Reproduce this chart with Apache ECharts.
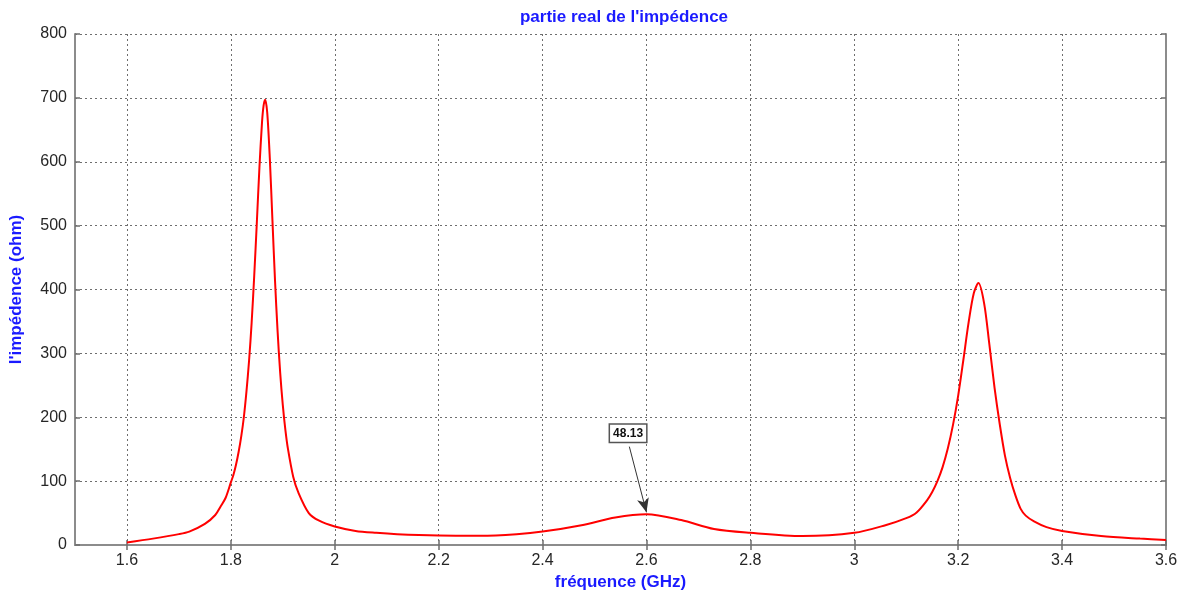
<!DOCTYPE html>
<html>
<head>
<meta charset="utf-8">
<script src="https://cdn.jsdelivr.net/npm/echarts@6/dist/echarts.min.js"></script>
<style>
html,body{margin:0;padding:0;background:#fff;}
#chart{width:1182px;height:596px;}
</style>
</head>
<body>
<div id="chart"></div>
<script>
// Data
const titleText = "partie real de l'impédence";
const xName = "fréquence (GHz)";
const yName = "l'impédence (ohm)";
const xTicks = [1.6, 1.8, 2, 2.2, 2.4, 2.6, 2.8, 3, 3.2, 3.4, 3.6];
const freq = [
  1.60, 1.65, 1.70, 1.72, 1.75, 1.77, 1.78, 1.79, 1.80, 1.805, 1.81, 1.815, 1.82, 1.825, 1.83, 1.835, 1.84, 1.845, 1.85, 1.855, 1.86, 1.863, 1.866,
  1.870, 1.875, 1.88, 1.885, 1.89, 1.895, 1.90, 1.905, 1.91, 1.92, 1.93, 1.95, 1.97, 2.00, 2.04, 2.08, 2.12, 2.20, 2.28, 2.35, 2.40, 2.475, 2.54, 2.60, 2.667, 2.73, 2.80, 2.90, 3.00, 3.06,
  3.10, 3.12, 3.14, 3.15, 3.16, 3.17, 3.18, 3.19, 3.20, 3.21, 3.22, 3.23, 3.239, 3.25, 3.26, 3.27, 3.28, 3.29, 3.30, 3.31, 3.32, 3.33, 3.346, 3.37, 3.40, 3.475, 3.55, 3.60
];
const impedance = [
  4, 10, 17, 21, 33, 47, 60, 74, 98, 110, 126, 146, 170, 200, 240, 288, 348, 422, 505, 591, 662, 688, 697,
  677, 605, 509, 414, 334, 269, 219, 180, 150, 107, 82, 50, 38, 29, 22, 19, 17, 15, 14.6, 17, 21, 31, 43, 48.13, 39, 25, 19, 14, 19, 31,
  42, 51, 70, 83, 100, 122, 151, 188, 234, 290, 348, 394, 410, 378, 314, 246, 189, 140, 105, 78, 57, 46, 37, 28, 22, 14, 10, 8
];
const markerFreq = 2.6;
const markerValue = 48.13;
const markerLabelAt = [2.567, 154];

const chart = echarts.init(document.getElementById('chart'), null, {renderer: 'canvas'});
const axisGray = '#8c8c8c';
const gridStyle = {show: true, lineStyle: {color: '#6e6e6e', type: [2, 3], width: 1}};
const tickStyle = {show: true, inside: true, length: 5, lineStyle: {color: '#6e6e6e', width: 1.5}};
const labelFont = {fontFamily: 'Liberation Sans', fontSize: 16, color: '#262626'};

const option = {
  backgroundColor: '#ffffff',
  animation: false,
  title: {
    text: titleText, left: 619, top: 4, textAlign: 'center',
    textStyle: {fontFamily: 'Liberation Sans', fontSize: 17, fontWeight: 'bold', color: '#1a1aff'}
  },
  grid: {left: 73, right: 16, top: 34, bottom: 51, containLabel: false},
  xAxis: [{
    type: 'value', min: 1.5, max: 3.6, position: 'bottom',
    name: xName, nameLocation: 'middle', nameGap: 28,
    nameTextStyle: {fontFamily: 'Liberation Sans', fontSize: 17, fontWeight: 'bold', color: '#1a1aff'},
    axisLine: {show: true, lineStyle: {color: axisGray, width: 2}},
    axisTick: Object.assign({customValues: xTicks}, tickStyle),
    axisLabel: Object.assign({customValues: xTicks, margin: 8, formatter: v => String(+v.toFixed(1))}, labelFont),
    splitLine: gridStyle
  }, {
    type: 'value', min: 1.5, max: 3.6, position: 'top',
    axisLine: {show: true, lineStyle: {color: axisGray, width: 2}},
    axisTick: Object.assign({customValues: xTicks}, tickStyle),
    axisLabel: {show: false}, splitLine: {show: false}
  }],
  yAxis: [{
    type: 'value', min: 0, max: 800, interval: 100, position: 'left',
    name: yName, nameLocation: 'middle', nameGap: 50,
    nameTextStyle: {fontFamily: 'Liberation Sans', fontSize: 17, fontWeight: 'bold', color: '#1a1aff'},
    axisLine: {show: true, lineStyle: {color: axisGray, width: 2}},
    axisTick: tickStyle,
    axisLabel: Object.assign({margin: 8}, labelFont),
    splitLine: gridStyle
  }, {
    type: 'value', min: 0, max: 800, interval: 100, position: 'right',
    axisLine: {show: true, lineStyle: {color: axisGray, width: 2}},
    axisTick: tickStyle, axisLabel: {show: false}, splitLine: {show: false}
  }],
  series: [{
    type: 'line',
    data: freq.map((f, i) => [f, impedance[i]]),
    showSymbol: false,
    smooth: 0.3,
    lineStyle: {color: '#ff0000', width: 2},
    markLine: {
      silent: true,
      symbol: ['none', 'arrow'],
      symbolSize: [9, 14],
      lineStyle: {color: '#333', width: 1, type: 'solid'},
      label: {
        show: true, position: 'start', formatter: String(markerValue),
        fontFamily: 'Liberation Sans', fontSize: 12, fontWeight: 'bold', color: '#111',
        backgroundColor: '#fff', borderColor: '#555', borderWidth: 1.5, padding: [3, 3, 2, 3]
      },
      data: [[{coord: markerLabelAt}, {coord: [markerFreq, markerValue + 3]}]]
    }
  }]
};
chart.setOption(option);
</script>
</body>
</html>
